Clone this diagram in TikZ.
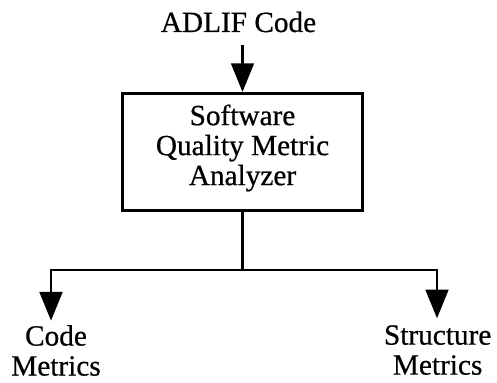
\documentclass[tikz,border=0pt]{standalone}
\usepackage{fontspec}
\setmainfont{Liberation Serif}[FakeBold=0.6]
\usepackage{tikz}
\usetikzlibrary{arrows.meta}

\tikzset{
    lbl/.style={font=\fontsize{25}{25.6}\selectfont, align=center, inner sep=0pt},
    box/.style={draw, line width=2.6pt, lbl, minimum width=7.2cm, minimum height=3.51cm, text depth=0.43cm},
    wire/.style={line width=2.4pt},
    arr/.style={wire, -{Triangle[length=0.86cm, width=0.68cm]}}
}

\begin{document}
\begin{tikzpicture}
    \useasboundingbox (0,0) rectangle (14.91,-11.49);
    \node [lbl, anchor=base, inner ysep=11pt] at (7.155,-0.96) (adlif) {ADLIF Code};
    \node [box] at (7.275,-4.56) (sqma) {Software\\Quality Metric\\Analyzer};
    \node [lbl, anchor=north] at (1.68,-9.75) (cm) {Code\\Metrics};
    \node [lbl, anchor=north] at (13.13,-9.75) (sm) {Structure\\Metrics};
    \coordinate (fork) at (7.275,-8.1);
    \coordinate (cmtip) at (1.53,-9.62);
    \coordinate (smtip) at (13.11,-9.55);
    \path [draw, arr] (adlif.south -| sqma.north) -- (sqma.north);
    \path [draw, wire] (sqma.south) -- (fork);
    \path [draw, arr] (fork) -| (cmtip);
    \path [draw, arr] (fork) -| (smtip);
\end{tikzpicture}
\end{document}
